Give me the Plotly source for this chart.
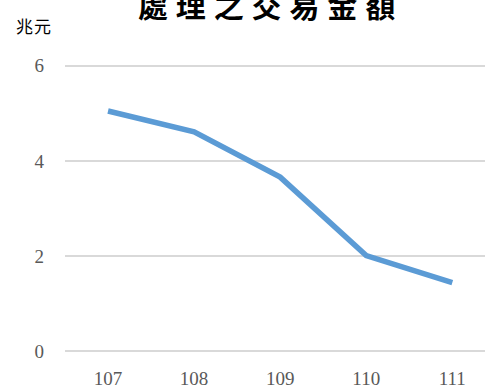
import plotly.graph_objects as go

# 處理之交易金額（兆元），民國 107–111 年
years = ["107", "108", "109", "110", "111"]
amounts = [5.05, 4.61, 3.66, 2.01, 1.44]
y_ticks = [0, 2, 4, 6]

W, H = 485, 389
ML, MR, MT, MB = 65, 0, 61, 28
plot_w = W - ML - MR
plot_h = H - MT - MB
Y_RANGE = [-0.1, 6.1]


def px_x(px):
    return (px - ML) / plot_w


def px_y(py):
    return (H - MB - py) / plot_h


fig = go.Figure(
    go.Scatter(
        x=years,
        y=amounts,
        mode="lines",
        line=dict(color="#5b9bd5", width=5.5),
        hoverinfo="skip",
    )
)

title = "\u2009\u200a".join("處理之交易金額")

fig.update_layout(
    width=W,
    height=H,
    margin=dict(l=ML, r=MR, t=MT, b=MB),
    paper_bgcolor="white",
    plot_bgcolor="white",
    showlegend=False,
    xaxis=dict(
        type="category",
        range=[-0.5, 4.38],
        showgrid=False,
        zeroline=False,
        showline=False,
        ticks="",
        ticklabelstandoff=9,
        tickfont=dict(family="Liberation Serif", size=19, color="#595959"),
    ),
    yaxis=dict(
        range=Y_RANGE,
        tickvals=y_ticks,
        showgrid=True,
        gridcolor="#d9d9d9",
        gridwidth=1.5,
        zeroline=False,
        showline=False,
        ticks="",
        ticklabelstandoff=20,
        tickfont=dict(family="Liberation Serif", size=19, color="#595959"),
    ),
    annotations=[
        dict(
            text=f"<b>{title}</b>",
            xref="paper", yref="paper",
            x=px_x(266), y=px_y(3),
            xanchor="center", yanchor="middle",
            showarrow=False,
            font=dict(family="Noto Sans CJK TC", size=30, color="#000000"),
        ),
        dict(
            text="兆\u200a元",
            xref="paper", yref="paper",
            x=px_x(33), y=px_y(25),
            xanchor="center", yanchor="middle",
            showarrow=False,
            font=dict(family="Noto Sans CJK TC", size=17, color="#000000"),
        ),
    ],
)

fig.write_html("out.html")
